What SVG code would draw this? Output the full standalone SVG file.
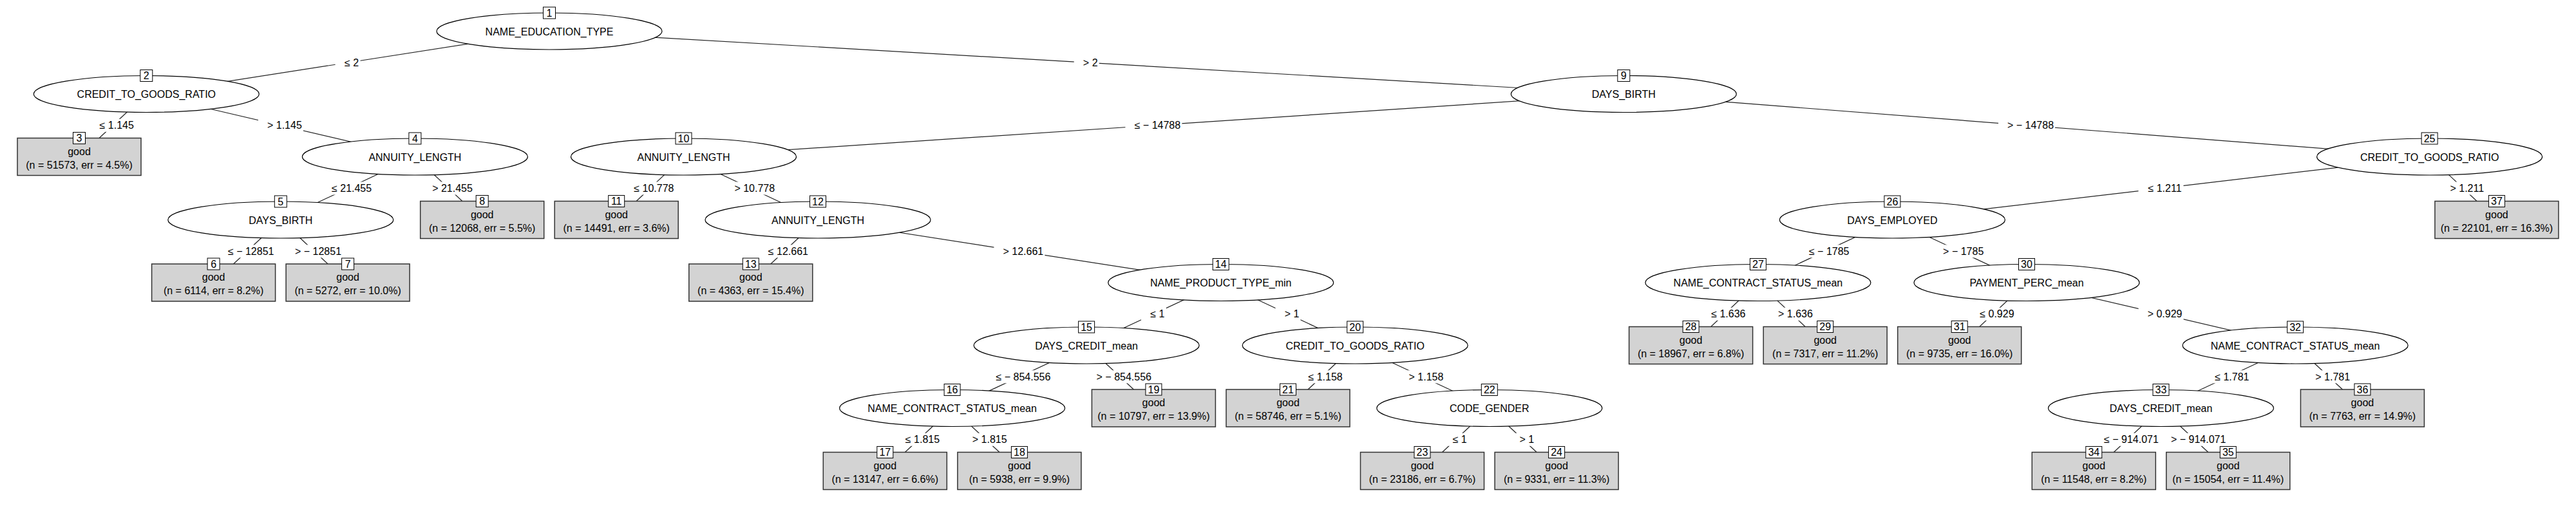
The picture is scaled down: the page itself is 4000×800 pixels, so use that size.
<svg xmlns="http://www.w3.org/2000/svg" width="4000" height="800" viewBox="0 0 4000 800">
<style>
text { font-family: "Liberation Sans", Arial, Helvetica, sans-serif; font-size: 16px; fill: #000; text-anchor: middle; }
.e path { stroke: #222; stroke-width: 1.2; fill: none; }
.lb rect { fill: #fff; stroke: none; }
.inner ellipse { fill: #fff; stroke: #000; stroke-width: 1.2; }
.term .b { fill: #d3d3d3; stroke: #333; stroke-width: 1.5; }
.id rect { fill: #fff; stroke: #000; stroke-width: 1; }
</style>
<rect x="0" y="0" width="4000" height="800" fill="#fff"/>
<g id="connectors" class="e">
<path d="M853,48.5L227.3,146"/>
<path d="M853,48.5L2521.3,146"/>
<path d="M227.3,146L123,243.5"/>
<path d="M227.3,146L644.4,243.5"/>
<path d="M644.4,243.5L435.8,341.5"/>
<path d="M644.4,243.5L748.7,341.5"/>
<path d="M435.8,341.5L331.6,439"/>
<path d="M435.8,341.5L540.1,439"/>
<path d="M2521.3,146L1061.5,243.5"/>
<path d="M2521.3,146L3772.6,243.5"/>
<path d="M1061.5,243.5L957.2,341.5"/>
<path d="M1061.5,243.5L1270,341.5"/>
<path d="M1270,341.5L1165.8,439"/>
<path d="M1270,341.5L1895.7,439"/>
<path d="M1895.7,439L1687.1,536.5"/>
<path d="M1895.7,439L2104.2,536.5"/>
<path d="M1687.1,536.5L1478.6,634"/>
<path d="M1687.1,536.5L1791.4,634"/>
<path d="M1478.6,634L1374.3,731.5"/>
<path d="M1478.6,634L1582.9,731.5"/>
<path d="M2104.2,536.5L2000,634"/>
<path d="M2104.2,536.5L2312.8,634"/>
<path d="M2312.8,634L2208.5,731.5"/>
<path d="M2312.8,634L2417.1,731.5"/>
<path d="M3772.6,243.5L2938.4,341.5"/>
<path d="M3772.6,243.5L3876.9,341.5"/>
<path d="M2938.4,341.5L2729.9,439"/>
<path d="M2938.4,341.5L3147,439"/>
<path d="M2729.9,439L2625.6,536.5"/>
<path d="M2729.9,439L2834.2,536.5"/>
<path d="M3147,439L3042.7,536.5"/>
<path d="M3147,439L3564.1,536.5"/>
<path d="M3564.1,536.5L3355.5,634"/>
<path d="M3564.1,536.5L3668.4,634"/>
<path d="M3355.5,634L3251.3,731.5"/>
<path d="M3355.5,634L3459.8,731.5"/>
<g class="lb"><rect x="520.6" y="87.3" width="39" height="20"/><text x="546.1" y="102.8">≤ 2</text></g>
<g class="lb"><rect x="1667.7" y="87.3" width="39" height="20"/><text x="1693.2" y="102.8">&gt; 2</text></g>
<g class="lb"><rect x="140.2" y="184.8" width="70" height="20"/><text x="181.2" y="200.3">≤ 1.145</text></g>
<g class="lb"><rect x="400.9" y="184.8" width="70" height="20"/><text x="441.9" y="200.3">&gt; 1.145</text></g>
<g class="lb"><rect x="500.6" y="282.5" width="79" height="20"/><text x="546.1" y="298">≤ 21.455</text></g>
<g class="lb"><rect x="657" y="282.5" width="79" height="20"/><text x="702.5" y="298">&gt; 21.455</text></g>
<g class="lb"><rect x="339.7" y="380.3" width="88" height="20"/><text x="389.7" y="395.8">≤ − 12851</text></g>
<g class="lb"><rect x="444" y="380.3" width="88" height="20"/><text x="494" y="395.8">&gt; − 12851</text></g>
<g class="lb"><rect x="1747.4" y="184.8" width="88" height="20"/><text x="1797.4" y="200.3">≤ − 14788</text></g>
<g class="lb"><rect x="3103" y="184.8" width="88" height="20"/><text x="3153" y="200.3">&gt; − 14788</text></g>
<g class="lb"><rect x="969.9" y="282.5" width="79" height="20"/><text x="1015.4" y="298">≤ 10.778</text></g>
<g class="lb"><rect x="1126.3" y="282.5" width="79" height="20"/><text x="1171.8" y="298">&gt; 10.778</text></g>
<g class="lb"><rect x="1178.4" y="380.3" width="79" height="20"/><text x="1223.9" y="395.8">≤ 12.661</text></g>
<g class="lb"><rect x="1543.4" y="380.3" width="79" height="20"/><text x="1588.9" y="395.8">&gt; 12.661</text></g>
<g class="lb"><rect x="1771.9" y="477.8" width="39" height="20"/><text x="1797.4" y="493.3">≤ 1</text></g>
<g class="lb"><rect x="1980.5" y="477.8" width="39" height="20"/><text x="2006" y="493.3">&gt; 1</text></g>
<g class="lb"><rect x="1532.4" y="575.3" width="101" height="20"/><text x="1588.9" y="590.8">≤ − 854.556</text></g>
<g class="lb"><rect x="1688.8" y="575.3" width="101" height="20"/><text x="1745.3" y="590.8">&gt; − 854.556</text></g>
<g class="lb"><rect x="1391.5" y="672.8" width="70" height="20"/><text x="1432.5" y="688.3">≤ 1.815</text></g>
<g class="lb"><rect x="1495.7" y="672.8" width="70" height="20"/><text x="1536.7" y="688.3">&gt; 1.815</text></g>
<g class="lb"><rect x="2017.1" y="575.3" width="70" height="20"/><text x="2058.1" y="590.8">≤ 1.158</text></g>
<g class="lb"><rect x="2173.5" y="575.3" width="70" height="20"/><text x="2214.5" y="590.8">&gt; 1.158</text></g>
<g class="lb"><rect x="2241.2" y="672.8" width="39" height="20"/><text x="2266.7" y="688.3">≤ 1</text></g>
<g class="lb"><rect x="2345.4" y="672.8" width="39" height="20"/><text x="2370.9" y="688.3">&gt; 1</text></g>
<g class="lb"><rect x="3320.5" y="282.5" width="70" height="20"/><text x="3361.5" y="298">≤ 1.211</text></g>
<g class="lb"><rect x="3789.8" y="282.5" width="70" height="20"/><text x="3830.8" y="298">&gt; 1.211</text></g>
<g class="lb"><rect x="2794.7" y="380.3" width="79" height="20"/><text x="2840.2" y="395.8">≤ − 1785</text></g>
<g class="lb"><rect x="3003.2" y="380.3" width="79" height="20"/><text x="3048.7" y="395.8">&gt; − 1785</text></g>
<g class="lb"><rect x="2642.8" y="477.8" width="70" height="20"/><text x="2683.8" y="493.3">≤ 1.636</text></g>
<g class="lb"><rect x="2747" y="477.8" width="70" height="20"/><text x="2788" y="493.3">&gt; 1.636</text></g>
<g class="lb"><rect x="3059.9" y="477.8" width="70" height="20"/><text x="3100.9" y="493.3">≤ 0.929</text></g>
<g class="lb"><rect x="3320.6" y="477.8" width="70" height="20"/><text x="3361.6" y="493.3">&gt; 0.929</text></g>
<g class="lb"><rect x="3424.8" y="575.3" width="70" height="20"/><text x="3465.8" y="590.8">≤ 1.781</text></g>
<g class="lb"><rect x="3581.2" y="575.3" width="70" height="20"/><text x="3622.2" y="590.8">&gt; 1.781</text></g>
<g class="lb"><rect x="3252.9" y="672.8" width="101" height="20"/><text x="3309.4" y="688.3">≤ − 914.071</text></g>
<g class="lb"><rect x="3357.2" y="672.8" width="101" height="20"/><text x="3413.7" y="688.3">&gt; − 914.071</text></g>
</g>
<g id="node1" class="inner" transform="translate(853,48.5)"><ellipse rx="175" ry="28.5"/><text y="6">NAME_EDUCATION_TYPE</text><g class="id"><rect x="-9.5" y="-37.5" width="19" height="18"/><text y="-22.8">1</text></g></g>
<g id="node2" class="inner" transform="translate(227.3,146)"><ellipse rx="175" ry="28.5"/><text y="6">CREDIT_TO_GOODS_RATIO</text><g class="id"><rect x="-9.5" y="-37.5" width="19" height="18"/><text y="-22.8">2</text></g></g>
<g id="node3" class="term" transform="translate(123,243.5)"><rect class="b" x="-96" y="-29" width="192" height="58"/><text y="-3">good</text><text y="18">(n = 51573, err = 4.5%)</text><g class="id"><rect x="-9.5" y="-38" width="19" height="18"/><text y="-23.3">3</text></g></g>
<g id="node4" class="inner" transform="translate(644.4,243.5)"><ellipse rx="175" ry="28.5"/><text y="6">ANNUITY_LENGTH</text><g class="id"><rect x="-9.5" y="-37.5" width="19" height="18"/><text y="-22.8">4</text></g></g>
<g id="node5" class="inner" transform="translate(435.8,341.5)"><ellipse rx="175" ry="28.5"/><text y="6">DAYS_BIRTH</text><g class="id"><rect x="-9.5" y="-37.5" width="19" height="18"/><text y="-22.8">5</text></g></g>
<g id="node6" class="term" transform="translate(331.6,439)"><rect class="b" x="-96" y="-29" width="192" height="58"/><text y="-3">good</text><text y="18">(n = 6114, err = 8.2%)</text><g class="id"><rect x="-9.5" y="-38" width="19" height="18"/><text y="-23.3">6</text></g></g>
<g id="node7" class="term" transform="translate(540.1,439)"><rect class="b" x="-96" y="-29" width="192" height="58"/><text y="-3">good</text><text y="18">(n = 5272, err = 10.0%)</text><g class="id"><rect x="-9.5" y="-38" width="19" height="18"/><text y="-23.3">7</text></g></g>
<g id="node8" class="term" transform="translate(748.7,341.5)"><rect class="b" x="-96" y="-29" width="192" height="58"/><text y="-3">good</text><text y="18">(n = 12068, err = 5.5%)</text><g class="id"><rect x="-9.5" y="-38" width="19" height="18"/><text y="-23.3">8</text></g></g>
<g id="node9" class="inner" transform="translate(2521.3,146)"><ellipse rx="175" ry="28.5"/><text y="6">DAYS_BIRTH</text><g class="id"><rect x="-9.5" y="-37.5" width="19" height="18"/><text y="-22.8">9</text></g></g>
<g id="node10" class="inner" transform="translate(1061.5,243.5)"><ellipse rx="175" ry="28.5"/><text y="6">ANNUITY_LENGTH</text><g class="id"><rect x="-12.5" y="-37.5" width="25" height="18"/><text y="-22.8">10</text></g></g>
<g id="node11" class="term" transform="translate(957.2,341.5)"><rect class="b" x="-96" y="-29" width="192" height="58"/><text y="-3">good</text><text y="18">(n = 14491, err = 3.6%)</text><g class="id"><rect x="-12.5" y="-38" width="25" height="18"/><text y="-23.3">11</text></g></g>
<g id="node12" class="inner" transform="translate(1270,341.5)"><ellipse rx="175" ry="28.5"/><text y="6">ANNUITY_LENGTH</text><g class="id"><rect x="-12.5" y="-37.5" width="25" height="18"/><text y="-22.8">12</text></g></g>
<g id="node13" class="term" transform="translate(1165.8,439)"><rect class="b" x="-96" y="-29" width="192" height="58"/><text y="-3">good</text><text y="18">(n = 4363, err = 15.4%)</text><g class="id"><rect x="-12.5" y="-38" width="25" height="18"/><text y="-23.3">13</text></g></g>
<g id="node14" class="inner" transform="translate(1895.7,439)"><ellipse rx="175" ry="28.5"/><text y="6">NAME_PRODUCT_TYPE_min</text><g class="id"><rect x="-12.5" y="-37.5" width="25" height="18"/><text y="-22.8">14</text></g></g>
<g id="node15" class="inner" transform="translate(1687.1,536.5)"><ellipse rx="175" ry="28.5"/><text y="6">DAYS_CREDIT_mean</text><g class="id"><rect x="-12.5" y="-37.5" width="25" height="18"/><text y="-22.8">15</text></g></g>
<g id="node16" class="inner" transform="translate(1478.6,634)"><ellipse rx="175" ry="28.5"/><text y="6">NAME_CONTRACT_STATUS_mean</text><g class="id"><rect x="-12.5" y="-37.5" width="25" height="18"/><text y="-22.8">16</text></g></g>
<g id="node17" class="term" transform="translate(1374.3,731.5)"><rect class="b" x="-96" y="-29" width="192" height="58"/><text y="-3">good</text><text y="18">(n = 13147, err = 6.6%)</text><g class="id"><rect x="-12.5" y="-38" width="25" height="18"/><text y="-23.3">17</text></g></g>
<g id="node18" class="term" transform="translate(1582.9,731.5)"><rect class="b" x="-96" y="-29" width="192" height="58"/><text y="-3">good</text><text y="18">(n = 5938, err = 9.9%)</text><g class="id"><rect x="-12.5" y="-38" width="25" height="18"/><text y="-23.3">18</text></g></g>
<g id="node19" class="term" transform="translate(1791.4,634)"><rect class="b" x="-96" y="-29" width="192" height="58"/><text y="-3">good</text><text y="18">(n = 10797, err = 13.9%)</text><g class="id"><rect x="-12.5" y="-38" width="25" height="18"/><text y="-23.3">19</text></g></g>
<g id="node20" class="inner" transform="translate(2104.2,536.5)"><ellipse rx="175" ry="28.5"/><text y="6">CREDIT_TO_GOODS_RATIO</text><g class="id"><rect x="-12.5" y="-37.5" width="25" height="18"/><text y="-22.8">20</text></g></g>
<g id="node21" class="term" transform="translate(2000,634)"><rect class="b" x="-96" y="-29" width="192" height="58"/><text y="-3">good</text><text y="18">(n = 58746, err = 5.1%)</text><g class="id"><rect x="-12.5" y="-38" width="25" height="18"/><text y="-23.3">21</text></g></g>
<g id="node22" class="inner" transform="translate(2312.8,634)"><ellipse rx="175" ry="28.5"/><text y="6">CODE_GENDER</text><g class="id"><rect x="-12.5" y="-37.5" width="25" height="18"/><text y="-22.8">22</text></g></g>
<g id="node23" class="term" transform="translate(2208.5,731.5)"><rect class="b" x="-96" y="-29" width="192" height="58"/><text y="-3">good</text><text y="18">(n = 23186, err = 6.7%)</text><g class="id"><rect x="-12.5" y="-38" width="25" height="18"/><text y="-23.3">23</text></g></g>
<g id="node24" class="term" transform="translate(2417.1,731.5)"><rect class="b" x="-96" y="-29" width="192" height="58"/><text y="-3">good</text><text y="18">(n = 9331, err = 11.3%)</text><g class="id"><rect x="-12.5" y="-38" width="25" height="18"/><text y="-23.3">24</text></g></g>
<g id="node25" class="inner" transform="translate(3772.6,243.5)"><ellipse rx="175" ry="28.5"/><text y="6">CREDIT_TO_GOODS_RATIO</text><g class="id"><rect x="-12.5" y="-37.5" width="25" height="18"/><text y="-22.8">25</text></g></g>
<g id="node26" class="inner" transform="translate(2938.4,341.5)"><ellipse rx="175" ry="28.5"/><text y="6">DAYS_EMPLOYED</text><g class="id"><rect x="-12.5" y="-37.5" width="25" height="18"/><text y="-22.8">26</text></g></g>
<g id="node27" class="inner" transform="translate(2729.9,439)"><ellipse rx="175" ry="28.5"/><text y="6">NAME_CONTRACT_STATUS_mean</text><g class="id"><rect x="-12.5" y="-37.5" width="25" height="18"/><text y="-22.8">27</text></g></g>
<g id="node28" class="term" transform="translate(2625.6,536.5)"><rect class="b" x="-96" y="-29" width="192" height="58"/><text y="-3">good</text><text y="18">(n = 18967, err = 6.8%)</text><g class="id"><rect x="-12.5" y="-38" width="25" height="18"/><text y="-23.3">28</text></g></g>
<g id="node29" class="term" transform="translate(2834.2,536.5)"><rect class="b" x="-96" y="-29" width="192" height="58"/><text y="-3">good</text><text y="18">(n = 7317, err = 11.2%)</text><g class="id"><rect x="-12.5" y="-38" width="25" height="18"/><text y="-23.3">29</text></g></g>
<g id="node30" class="inner" transform="translate(3147,439)"><ellipse rx="175" ry="28.5"/><text y="6">PAYMENT_PERC_mean</text><g class="id"><rect x="-12.5" y="-37.5" width="25" height="18"/><text y="-22.8">30</text></g></g>
<g id="node31" class="term" transform="translate(3042.7,536.5)"><rect class="b" x="-96" y="-29" width="192" height="58"/><text y="-3">good</text><text y="18">(n = 9735, err = 16.0%)</text><g class="id"><rect x="-12.5" y="-38" width="25" height="18"/><text y="-23.3">31</text></g></g>
<g id="node32" class="inner" transform="translate(3564.1,536.5)"><ellipse rx="175" ry="28.5"/><text y="6">NAME_CONTRACT_STATUS_mean</text><g class="id"><rect x="-12.5" y="-37.5" width="25" height="18"/><text y="-22.8">32</text></g></g>
<g id="node33" class="inner" transform="translate(3355.5,634)"><ellipse rx="175" ry="28.5"/><text y="6">DAYS_CREDIT_mean</text><g class="id"><rect x="-12.5" y="-37.5" width="25" height="18"/><text y="-22.8">33</text></g></g>
<g id="node34" class="term" transform="translate(3251.3,731.5)"><rect class="b" x="-96" y="-29" width="192" height="58"/><text y="-3">good</text><text y="18">(n = 11548, err = 8.2%)</text><g class="id"><rect x="-12.5" y="-38" width="25" height="18"/><text y="-23.3">34</text></g></g>
<g id="node35" class="term" transform="translate(3459.8,731.5)"><rect class="b" x="-96" y="-29" width="192" height="58"/><text y="-3">good</text><text y="18">(n = 15054, err = 11.4%)</text><g class="id"><rect x="-12.5" y="-38" width="25" height="18"/><text y="-23.3">35</text></g></g>
<g id="node36" class="term" transform="translate(3668.4,634)"><rect class="b" x="-96" y="-29" width="192" height="58"/><text y="-3">good</text><text y="18">(n = 7763, err = 14.9%)</text><g class="id"><rect x="-12.5" y="-38" width="25" height="18"/><text y="-23.3">36</text></g></g>
<g id="node37" class="term" transform="translate(3876.9,341.5)"><rect class="b" x="-96" y="-29" width="192" height="58"/><text y="-3">good</text><text y="18">(n = 22101, err = 16.3%)</text><g class="id"><rect x="-12.5" y="-38" width="25" height="18"/><text y="-23.3">37</text></g></g>
</svg>
